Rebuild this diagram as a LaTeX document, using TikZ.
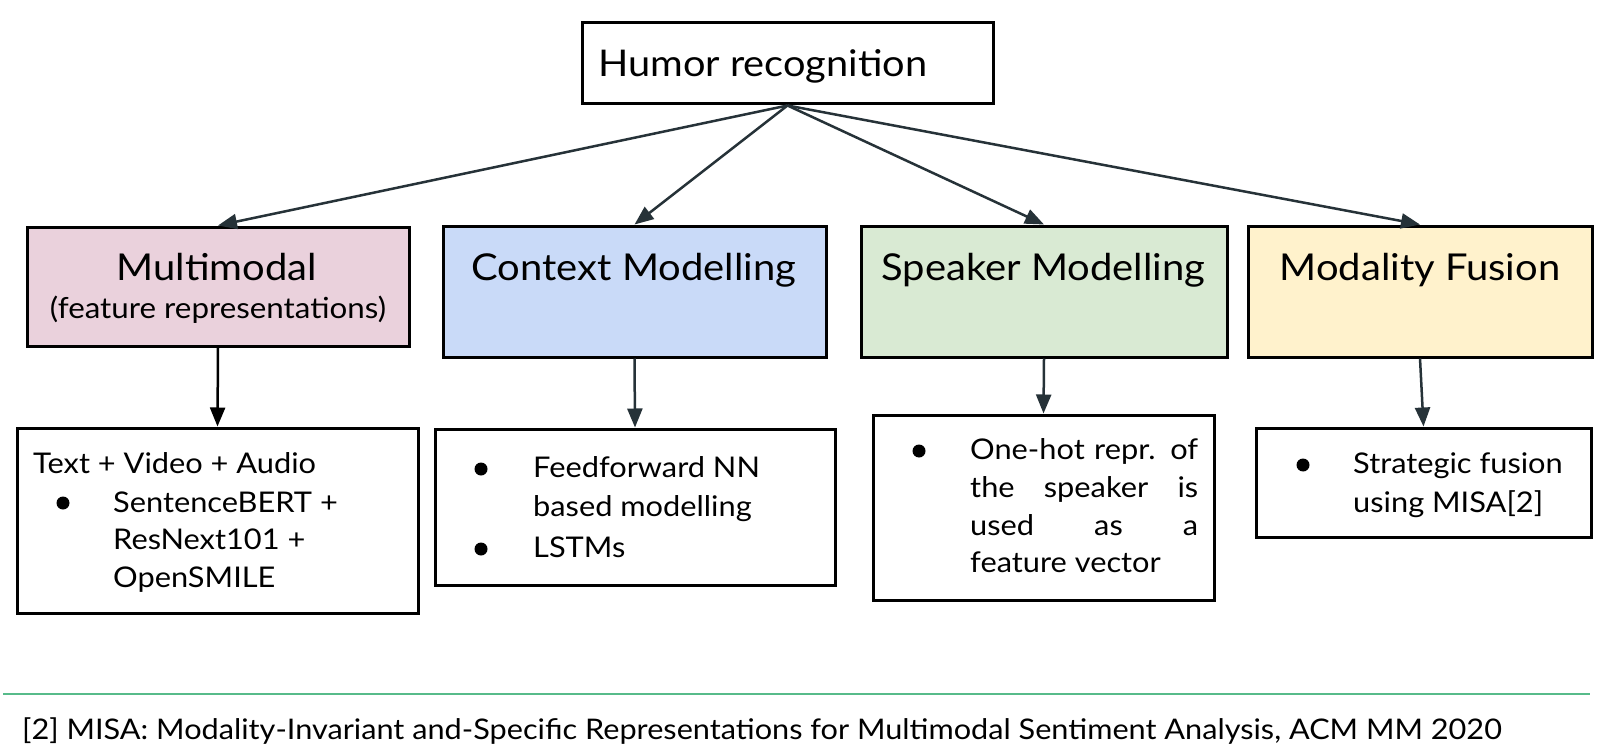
\documentclass[tikz,border=0pt]{standalone}
\usepackage{fontspec}
\setmainfont{Lato}[FakeStretch=1.08]
\usetikzlibrary{arrows.meta}
\definecolor{pinkf}{HTML}{EAD1DC}
\definecolor{bluef}{HTML}{C9DAF8}
\definecolor{greenf}{HTML}{D9EAD3}
\definecolor{yellowf}{HTML}{FFF2CC}
\definecolor{arrowc}{HTML}{263238}
\definecolor{rulec}{HTML}{57BB8A}
\tikzset{
  box/.style={draw=black, line width=3pt, rectangle, inner sep=0pt},
  conn/.style={draw=arrowc, line width=2.5pt, -{Triangle[length=19pt,width=15pt]}},
  title/.style={anchor=base, inner sep=0pt, font=\fontsize{37}{40}\selectfont},
  body/.style={anchor=base west, inner sep=0pt, font=\fontsize{28.5}{32}\selectfont},
  bul/.style={circle, fill=black, inner sep=0pt, minimum size=13pt},
}
\begin{document}
\begin{tikzpicture}[x=1pt,y=-1pt]
\useasboundingbox[fill=white] (0,0) rectangle (1600,754);
% top
\node[box, minimum width=411pt, minimum height=81pt] (humor) at (787.5,63.5) {};
\node[anchor=base west, inner sep=0pt, font=\fontsize{36.8}{42}\selectfont] (humort) at (598,77) {Humor recognition};
% level 1
\node[box, fill=pinkf, minimum width=382pt, minimum height=119pt] (multi) at (218,286.5) {};
\node[box, fill=bluef, minimum width=383pt, minimum height=131pt] (ctx) at (634.5,291.5) {};
\node[box, fill=greenf, minimum width=366pt, minimum height=131pt] (spk) at (1044,291.5) {};
\node[box, fill=yellowf, minimum width=344pt, minimum height=131pt] (fus) at (1420,291.5) {};
\node[title] (multit) at (217,280) {Multimodal};
\node[anchor=base, inner sep=0pt, font=\fontsize{29}{32}\selectfont] (multis) at (218,318) {(feature representations)};
\node[title] (ctxt) at (634,280) {Context Modelling};
\node[title] (spkt) at (1043.5,280) {Speaker Modelling};
\node[title] (fust) at (1420,280) {Modality Fusion};
% level 2
\node[box, minimum width=401pt, minimum height=185pt] (t1) at (217.5,520.5) {};
\node[box, minimum width=400pt, minimum height=156pt] (t2) at (635,507) {};
\node[box, minimum width=341pt, minimum height=185pt] (t3) at (1043.5,507.5) {};
\node[box, minimum width=335pt, minimum height=109pt] (t4) at (1423.5,482.5) {};
% t1 text
\node[body] (t1a) at (33,473) {Text + Video + Audio};
\node[bul] (b1) at (63,503) {};
\node[body] (t1b) at (113,512) {SentenceBERT +};
\node[body] (t1c) at (113,549) {ResNext101 +};
\node[body] (t1d) at (113,587) {OpenSMILE};
% t2 text
\node[bul] (b2) at (481,469) {};
\node[body] (t2a) at (533,477) {Feedforward NN};
\node[body] (t2b) at (533,516) {based modelling};
\node[bul] (b3) at (481,549) {};
\node[body] (t2c) at (533,557) {LSTMs};
% t3 text
\node[bul] (b4) at (919,451) {};
\node[body] (t3a) at (970,459) {\makebox[228pt][s]{One-hot repr. of}};
\node[body] (t3b) at (970,497) {\makebox[228pt][s]{the speaker is}};
\node[body] (t3c) at (970,535) {\makebox[228pt][s]{used as a}};
\node[body] (t3d) at (970,572) {feature vector};
% t4 text
\node[bul] (b5) at (1303,465) {};
\node[body] (t4a) at (1353,473) {Strategic fusion};
\node[body] (t4b) at (1353,512) {using MISA[2]};
% connectors
\draw[conn] (humor.south) -- (multi.north);
\draw[conn] (humor.south) -- (ctx.north);
\draw[conn] (humor.south) -- (spk.north);
\draw[conn] (humor.south) -- (fus.north);
\draw[conn, draw=black] (multi.south) -- (t1.north);
\draw[conn] (ctx.south) -- (t2.north);
\draw[conn] (spk.south) -- (t3.north);
\draw[conn] (fus.south) -- (t4.north);
% footer
\draw[rulec, line width=1.5pt] (3,694) -- (1590,694);
\node[anchor=base west, inner sep=0pt, font=\fontsize{28.4}{33}\selectfont] (foot) at (22,739) {[2] MISA: Modality-Invariant and-Specific Representations for Multimodal Sentiment Analysis, ACM MM 2020};
\end{tikzpicture}
\end{document}
